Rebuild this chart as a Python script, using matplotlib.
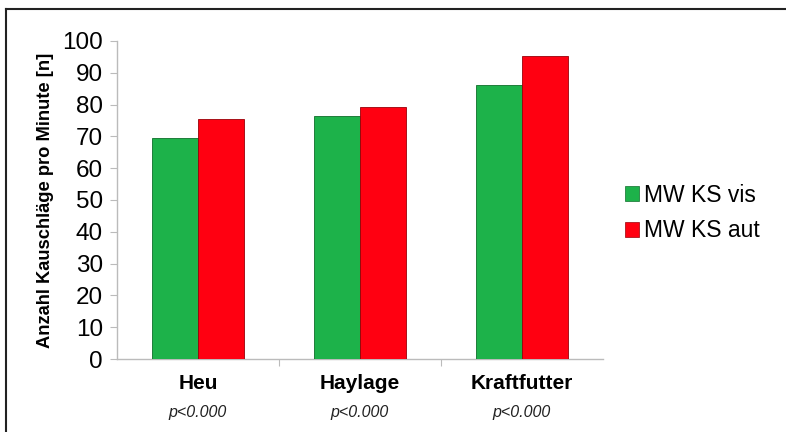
import matplotlib
matplotlib.use("Agg")
import matplotlib.pyplot as plt
import numpy as np
from matplotlib.lines import Line2D

categories = ["Heu", "Haylage", "Kraftfutter"]
p_labels = ["p<0.000", "p<0.000", "p<0.000"]
series_names = ["MW KS vis", "MW KS aut"]
vis_values = [69.5, 76.3, 86.2]
aut_values = [75.5, 79.4, 95.4]
yticks = [0, 10, 20, 30, 40, 50, 60, 70, 80, 90, 100]

plt.rcParams['font.family'] = ['Liberation Sans', 'DejaVu Sans']

fig = plt.figure(figsize=(7.86, 4.32), dpi=100)
ax = fig.add_axes([117/786, 1 - 359/432, (603 - 117)/786, (359 - 41)/432])

x = np.arange(len(categories))
w = 0.284
green = "#1db24a"
red = "#ff0011"
ax.bar(x - w/2, vis_values, w, color=green, edgecolor="#0e6e2a", linewidth=0.6, label=series_names[0], zorder=3)
ax.bar(x + w/2, aut_values, w, color=red, edgecolor="#9a0008", linewidth=0.6, label=series_names[1], zorder=3)

ax.set_xlim(-0.5, 2.5)
ax.set_ylim(0, 100)
ax.set_yticks(yticks)
ax.set_yticklabels([str(v) for v in yticks], fontsize=17.5)
ax.set_xticks([0.5, 1.5])
ax.set_xticklabels([])
ax.tick_params(axis='x', length=5, color="#bbbbbb", direction='out')
ax.tick_params(axis='y', length=5, color="#bbbbbb", direction='out', pad=5)
for s in ["top", "right"]:
    ax.spines[s].set_visible(False)
ax.spines["left"].set_color("#bbbbbb")
ax.spines["bottom"].set_color("#bbbbbb")
ax.spines["left"].set_linewidth(1.0)
ax.spines["bottom"].set_linewidth(1.0)

for i, (c, p) in enumerate(zip(categories, p_labels)):
    ax.text(i, -7.8, c, ha='center', va='center', fontsize=15, fontweight='bold',
            transform=ax.transData, clip_on=False)
    ax.text(i, -16.9, p, ha='center', va='center', fontsize=11.5, fontstyle='italic',
            color="#222222", transform=ax.transData, clip_on=False)

ax.set_ylabel("Anzahl Kauschläge pro Minute [n]", fontsize=13.2, fontweight='bold', labelpad=6)

handles = [plt.Rectangle((0, 0), 1, 1, color=green, ec="#0e6e2a", lw=0.5),
           plt.Rectangle((0, 0), 1, 1, color=red, ec="#9a0008", lw=0.5)]
fig.legend(handles, series_names, loc='center left', bbox_to_anchor=(625/786, 1 - 213/432),
           frameon=False, fontsize=16.5, handlelength=0.6, handleheight=0.6,
           handletextpad=0.25, labelspacing=0.55, borderaxespad=0, borderpad=0)

# figure border (top and left visible)
fig.add_artist(Line2D([6/786, 6/786], [0, 1 - 9/432], transform=fig.transFigure, color="#222222", lw=1.5))
fig.add_artist(Line2D([6/786, 1], [1 - 9/432, 1 - 9/432], transform=fig.transFigure, color="#222222", lw=1.5))

fig.savefig("out.png", dpi=100)
